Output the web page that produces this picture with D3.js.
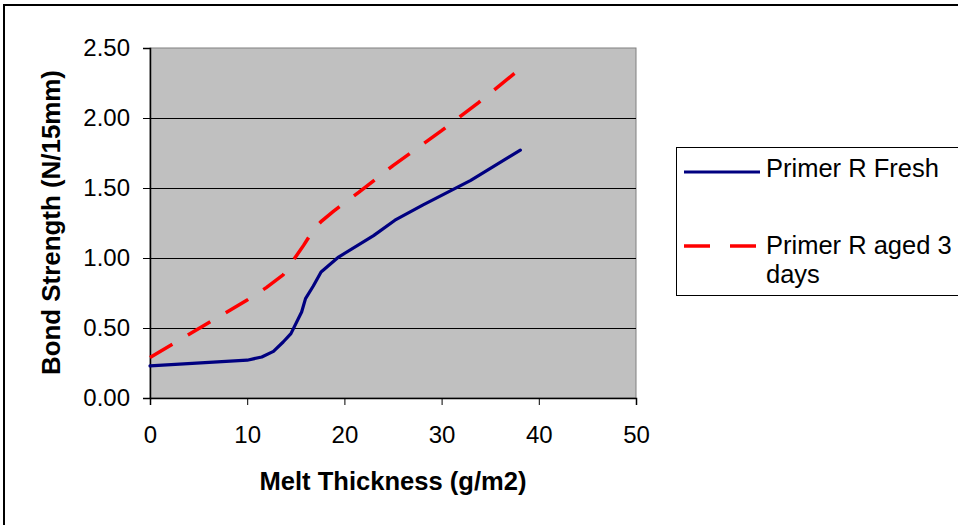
<!DOCTYPE html>
<html><head><meta charset="utf-8">
<script src="https://cdn.jsdelivr.net/npm/d3@7/dist/d3.min.js"></script>
<style>body{margin:0;background:#fff;}svg{display:block;font-family:"Liberation Sans",Arial,sans-serif;}</style>
</head><body>
<svg id="c" width="958" height="525"></svg>
<script>
const freshX = [0, 10, 11.5, 12.7, 13.7, 14.5, 15.6, 16.0, 16.8, 17.6, 19.4, 23, 25.2, 28.1, 33, 38.1];
const freshY = [0.23, 0.27, 0.293, 0.333, 0.40, 0.46, 0.614, 0.71, 0.80, 0.90, 1.007, 1.16, 1.27, 1.38, 1.555, 1.77];
const agedX = [0, 10, 12, 13.7, 14.6, 15.8, 16.8, 17.6, 18.8, 21.5, 25, 30, 33.8, 37.7];
const agedY = [0.29, 0.70, 0.79, 0.88, 0.97, 1.09, 1.20, 1.26, 1.33, 1.47, 1.66, 1.91, 2.11, 2.33];
const xTicks = [0, 10, 20, 30, 40, 50];
const yTicks = [0, 0.5, 1.0, 1.5, 2.0, 2.5];
const seriesNames = ["Primer R Fresh", "Primer R aged 3 days"];

const svg = d3.select("#c");
const L = 150, R = 636, T = 48, B = 398;
const x = d3.scaleLinear().domain([0, 50]).range([L, R]);
const y = d3.scaleLinear().domain([0, 2.5]).range([B, T]);

// outer frame
svg.append("rect").attr("x", 4).attr("y", 5).attr("width", 1000).attr("height", 1000)
  .attr("fill", "none").attr("stroke", "#000").attr("stroke-width", 2);

// plot area
svg.append("rect").attr("x", L).attr("y", T).attr("width", R - L).attr("height", B - T)
  .attr("fill", "#C0C0C0").attr("stroke", "#808080").attr("stroke-width", 1);

// gridlines
svg.append("g").selectAll("line").data(yTicks.filter(d => d > 0 && d < 2.5)).join("line")
  .attr("x1", L).attr("x2", R).attr("y1", d => Math.round(y(d)) + 0.5).attr("y2", d => Math.round(y(d)) + 0.5)
  .attr("stroke", "#000").attr("stroke-width", 1);

// axes
const yAxis = d3.axisLeft(y).tickValues(yTicks).tickFormat(d3.format(".2f")).tickSize(7).tickPadding(13);
const gy = svg.append("g").attr("transform", `translate(${L},0)`).call(yAxis);
const xAxis = d3.axisBottom(x).tickValues(xTicks).tickFormat(d3.format("d")).tickSize(7).tickPadding(21);
const gx = svg.append("g").attr("transform", `translate(0,${B})`).call(xAxis);
[gx, gy].forEach(g => {
  g.select(".domain").attr("stroke", "#000").attr("stroke-width", 1.5);
  g.selectAll(".tick line").attr("stroke", "#000");
  g.selectAll("text").attr("fill", "#000").style("font-size", "24px").style("font-family", "'Liberation Sans',Arial,sans-serif");
});

// lines
const line = d3.line().x(d => x(d[0])).y(d => y(d[1]));
const fresh = freshX.map((v, i) => [v, freshY[i]]);
const aged = agedX.map((v, i) => [v, agedY[i]]);
svg.append("path").attr("d", line(aged)).attr("fill", "none").attr("stroke", "#FF0000")
  .attr("stroke-width", 3.5).attr("stroke-dasharray", "26,18");
svg.append("path").attr("d", line(fresh)).attr("fill", "none").attr("stroke", "#000080")
  .attr("stroke-width", 3.2).attr("stroke-linejoin", "round").attr("stroke-linecap", "round");

// axis titles
svg.append("text").attr("x", (L + R) / 2).attr("y", 490).attr("text-anchor", "middle")
  .attr("font-weight", "bold").attr("font-size", 25)
  .attr("textLength", 267).attr("lengthAdjust", "spacingAndGlyphs").text("Melt Thickness (g/m2)");
svg.append("text").attr("transform", "translate(60,222.5) rotate(-90)").attr("text-anchor", "middle")
  .attr("font-weight", "bold").attr("font-size", 25)
  .attr("textLength", 305).attr("lengthAdjust", "spacingAndGlyphs").text("Bond Strength (N/15mm)");

// legend
svg.append("rect").attr("x", 676.5).attr("y", 147.5).attr("width", 400).attr("height", 148)
  .attr("fill", "#fff").attr("stroke", "#000").attr("stroke-width", 1);
svg.append("line").attr("x1", 684).attr("x2", 760).attr("y1", 172).attr("y2", 172)
  .attr("stroke", "#000080").attr("stroke-width", 3.2);
svg.append("line").attr("x1", 684).attr("x2", 760).attr("y1", 246).attr("y2", 246)
  .attr("stroke", "#FF0000").attr("stroke-width", 3.5).attr("stroke-dasharray", "26,20");
svg.append("text").attr("x", 766).attr("y", 177).attr("font-size", 25.5).text(seriesNames[0]);
const t2 = svg.append("text").attr("x", 766).attr("y", 254).attr("font-size", 25.5);
t2.append("tspan").attr("x", 766).text("Primer R aged 3");
t2.append("tspan").attr("x", 766).attr("dy", 29).text("days");
</script>
</body></html>
